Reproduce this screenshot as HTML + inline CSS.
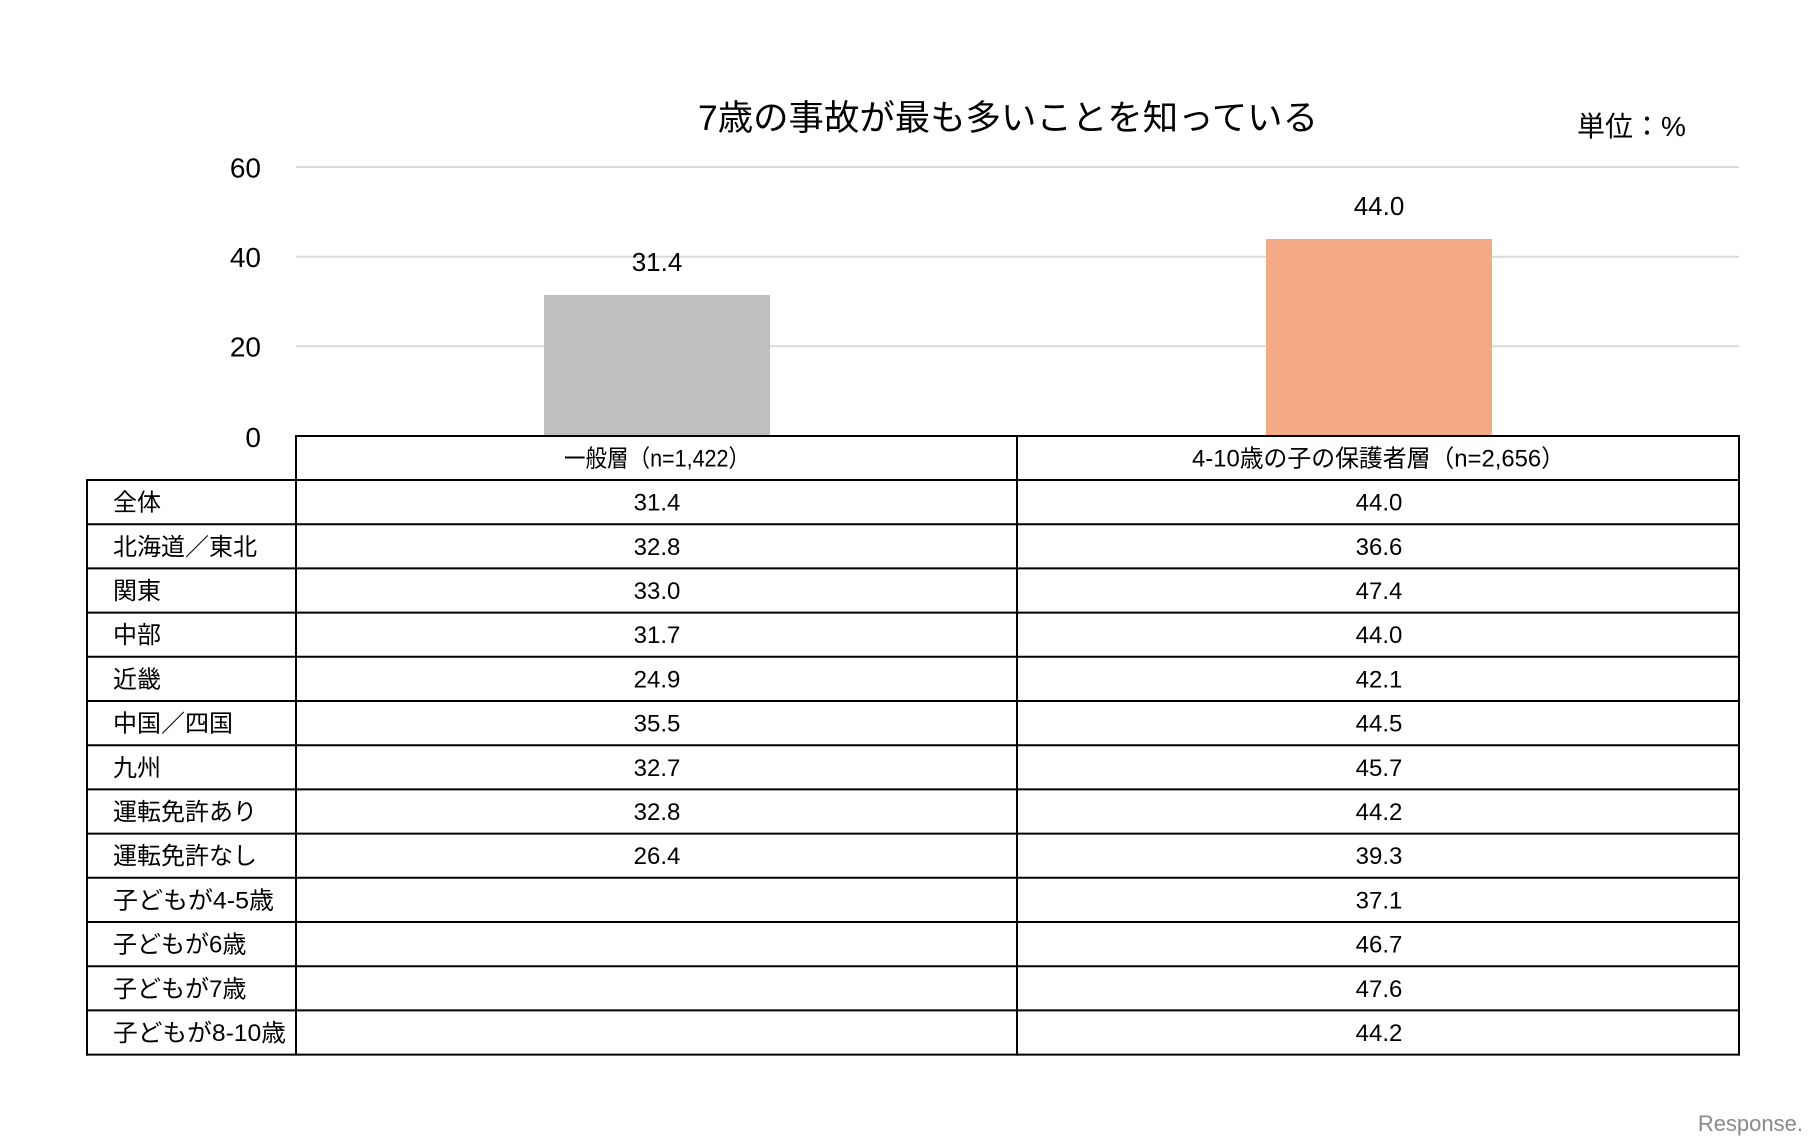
<!DOCTYPE html>
<html>
<head>
<meta charset="utf-8">
<style>
  html,body{margin:0;padding:0;background:#fff;}
  svg{display:block;}
  text{font-family:"Liberation Sans","Noto Sans CJK JP",sans-serif;fill:#000;}
</style>
</head>
<body>
<svg width="1815" height="1145" viewBox="0 0 1815 1145" xmlns="http://www.w3.org/2000/svg">
  <rect width="1815" height="1145" fill="#fff"/>
  <!-- title -->
  <text x="698" y="130" font-size="35" textLength="620" lengthAdjust="spacingAndGlyphs">7歳の事故が最も多いことを知っている</text>
  <text x="1577" y="136" font-size="28">単位：%</text>

  <!-- gridlines -->
  <g stroke="#D9D9D9" stroke-width="2">
    <line x1="296" y1="167" x2="1739" y2="167"/>
    <line x1="296" y1="256.7" x2="1739" y2="256.7"/>
    <line x1="296" y1="346.3" x2="1739" y2="346.3"/>
  </g>
  <!-- y labels -->
  <g font-size="28" text-anchor="end">
    <text x="261" y="177.5">60</text>
    <text x="261" y="267">40</text>
    <text x="261" y="356.5">20</text>
    <text x="261" y="447">0</text>
  </g>

  <!-- bars -->
  <rect x="544" y="295" width="226" height="141" fill="#BFBFBF"/>
  <rect x="1266" y="239" width="226" height="197" fill="#F3AA85"/>
  <g font-size="26" text-anchor="middle">
    <text x="657" y="271">31.4</text>
    <text x="1379" y="215">44.0</text>
  </g>

  <!-- table lines -->
  <g stroke="#000" stroke-width="2" fill="none">
    <line x1="295" y1="436" x2="1740" y2="436"/>
    <line x1="86" y1="480" x2="1740" y2="480"/>
    <line x1="86" y1="524.2" x2="1740" y2="524.2"/>
    <line x1="86" y1="568.4" x2="1740" y2="568.4"/>
    <line x1="86" y1="612.6" x2="1740" y2="612.6"/>
    <line x1="86" y1="656.8" x2="1740" y2="656.8"/>
    <line x1="86" y1="701" x2="1740" y2="701"/>
    <line x1="86" y1="745.2" x2="1740" y2="745.2"/>
    <line x1="86" y1="789.4" x2="1740" y2="789.4"/>
    <line x1="86" y1="833.6" x2="1740" y2="833.6"/>
    <line x1="86" y1="877.8" x2="1740" y2="877.8"/>
    <line x1="86" y1="922" x2="1740" y2="922"/>
    <line x1="86" y1="966.2" x2="1740" y2="966.2"/>
    <line x1="86" y1="1010.4" x2="1740" y2="1010.4"/>
    <line x1="86" y1="1054.6" x2="1740" y2="1054.6"/>
    <line x1="87" y1="480" x2="87" y2="1055.6"/>
    <line x1="296" y1="435" x2="296" y2="1055.6"/>
    <line x1="1017" y1="435" x2="1017" y2="1055.6"/>
    <line x1="1739" y1="435" x2="1739" y2="1055.6"/>
  </g>

  <!-- header -->
  <g font-size="24">
    <text x="564" y="466.5" textLength="186" lengthAdjust="spacingAndGlyphs">一般層（n=1,422）</text>
    <text x="1192" y="466.5" textLength="373" lengthAdjust="spacingAndGlyphs">4-10歳の子の保護者層（n=2,656）</text>
  </g>

  <!-- row labels -->
  <g font-size="24">
    <text x="113" y="510.6">全体</text>
    <text x="113" y="554.8">北海道／東北</text>
    <text x="113" y="599">関東</text>
    <text x="113" y="643.2">中部</text>
    <text x="113" y="687.4">近畿</text>
    <text x="113" y="731.6">中国／四国</text>
    <text x="113" y="775.8">九州</text>
    <text x="113" y="820">運転免許あり</text>
    <text x="113" y="864.2">運転免許なし</text>
    <text x="113" y="908.4" textLength="161" lengthAdjust="spacingAndGlyphs">子どもが4-5歳</text>
    <text x="113" y="952.6">子どもが6歳</text>
    <text x="113" y="996.8">子どもが7歳</text>
    <text x="113" y="1041" textLength="173" lengthAdjust="spacingAndGlyphs">子どもが8-10歳</text>
  </g>

  <!-- col 1 values -->
  <g font-size="24" text-anchor="middle">
    <text x="657" y="510.6">31.4</text>
    <text x="657" y="554.8">32.8</text>
    <text x="657" y="599">33.0</text>
    <text x="657" y="643.2">31.7</text>
    <text x="657" y="687.4">24.9</text>
    <text x="657" y="731.6">35.5</text>
    <text x="657" y="775.8">32.7</text>
    <text x="657" y="820">32.8</text>
    <text x="657" y="864.2">26.4</text>
  </g>
  <!-- col 2 values -->
  <g font-size="24" text-anchor="middle">
    <text x="1379" y="510.6">44.0</text>
    <text x="1379" y="554.8">36.6</text>
    <text x="1379" y="599">47.4</text>
    <text x="1379" y="643.2">44.0</text>
    <text x="1379" y="687.4">42.1</text>
    <text x="1379" y="731.6">44.5</text>
    <text x="1379" y="775.8">45.7</text>
    <text x="1379" y="820">44.2</text>
    <text x="1379" y="864.2">39.3</text>
    <text x="1379" y="908.4">37.1</text>
    <text x="1379" y="952.6">46.7</text>
    <text x="1379" y="996.8">47.6</text>
    <text x="1379" y="1041">44.2</text>
  </g>

  <!-- watermark -->
  <text x="1803" y="1131" font-size="22" text-anchor="end" style="fill:#8a8a8a;">Response.</text>
</svg>
</body>
</html>
